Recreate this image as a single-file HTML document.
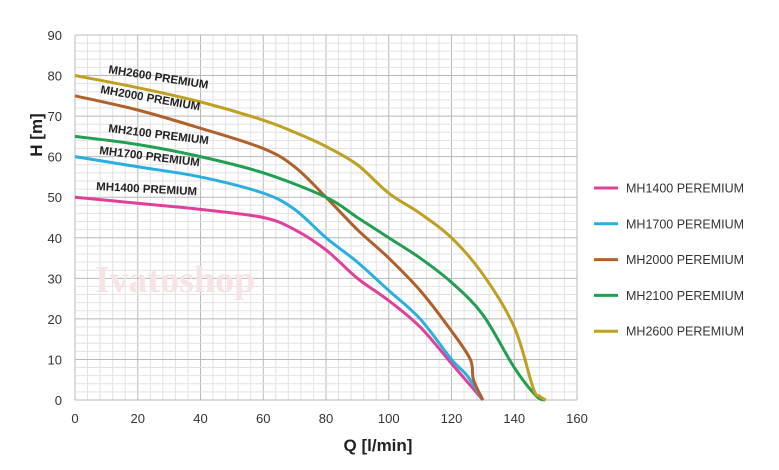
<!DOCTYPE html><html><head><style>body{margin:0;background:#fff}svg{display:block}</style></head><body>
<svg width="779" height="470" xmlns="http://www.w3.org/2000/svg" font-family="Liberation Sans, sans-serif">
<g id="grid"></g>
<text x="175" y="292" font-family="Liberation Serif,serif" font-size="38" font-weight="bold" fill="#f6e4e4" text-anchor="middle">Ivatoshop</text>
<g id="curves"></g>
<g font-size="13" fill="#333" text-anchor="end" id="yt"></g>
<g font-size="13" fill="#333" text-anchor="middle" id="xt"></g>
<text transform="translate(42,135) rotate(-90)" font-size="17" font-weight="bold" text-anchor="middle" fill="#222">H [m]</text>
<text x="378" y="451" font-size="17" font-weight="bold" text-anchor="middle" fill="#222">Q [l/min]</text>
<g font-size="11.5" font-weight="bold" fill="#222">
<text transform="translate(108,73) rotate(9)">MH2600 PREMIUM</text>
<text transform="translate(100,93) rotate(10)">MH2000 PREMIUM</text>
<text transform="translate(108,132) rotate(7)">MH2100 PREMIUM</text>
<text transform="translate(99,154) rotate(7)">MH1700 PREMIUM</text>
<text transform="translate(96,190) rotate(3)">MH1400 PREMIUM</text>
</g>
<g font-size="12.5" fill="#333" id="leg"></g>
</svg>
<script>
var ns="http://www.w3.org/2000/svg";
function X(q){return 75+q*3.1375}function Y(h){return 400-h*4.056}
function el(p,t,a,txt){var e=document.createElementNS(ns,t);for(var k in a)e.setAttribute(k,a[k]);if(txt!==undefined)e.textContent=txt;document.getElementById(p).appendChild(e);return e}
for(var q=0;q<=160;q+=4)el("grid","line",{x1:X(q),x2:X(q),y1:Y(90),y2:Y(0),stroke:q%20?"#e2e2e2":"#b8b8b8","stroke-width":1});
for(var h=0;h<=90;h+=2)el("grid","line",{x1:X(0),x2:X(160),y1:Y(h),y2:Y(h),stroke:h%10?"#e2e2e2":"#b8b8b8","stroke-width":1});
for(var h=0;h<=90;h+=10)el("yt","text",{x:62,y:Y(h)+5},h);
for(var q=0;q<=160;q+=20)el("xt","text",{x:X(q),y:423},q);
var S=[
["#e0409a","MH1400 PEREMIUM",[[0,50],[20,48.5],[40,47],[60,45],[70,42],[80,37],[90,30],[100,24.5],[110,18],[120,9],[130,0]]],
["#2ab0e0","MH1700 PEREMIUM",[[0,60],[20,57.5],[40,55],[60,51],[70,47],[80,40],[90,34],[100,27],[110,20],[120,10],[125,6],[130,0]]],
["#b0602a","MH2000 PEREMIUM",[[0,75],[20,71.5],[40,67],[60,62],[70,57.5],[80,50],[90,42],[100,35],[110,27],[120,17],[126,10],[127,5],[130,0]]],
["#20a050","MH2100 PEREMIUM",[[0,65],[20,63],[40,60],[60,56],[80,50],[90,45],[100,40],[110,35],[120,29],[130,21],[140,8],[147,1],[150,0]]],
["#c0a020","MH2600 PEREMIUM",[[0,80],[20,77],[40,73.5],[60,69],[70,66],[80,62.5],[90,58],[100,51],[110,46],[120,40],[130,31],[140,18],[146,3],[148,1],[150,0]]]];
function mk(pts){var P=pts.map(function(p){return [X(p[0]),Y(p[1])]});var d="M"+P[0][0]+","+P[0][1];
for(var i=0;i<P.length-1;i++){var p0=P[Math.max(0,i-1)],p1=P[i],p2=P[i+1],p3=P[Math.min(P.length-1,i+2)];
d+=" C"+(p1[0]+(p2[0]-p0[0])/6)+","+(p1[1]+(p2[1]-p0[1])/6)+" "+(p2[0]-(p3[0]-p1[0])/6)+","+(p2[1]-(p3[1]-p1[1])/6)+" "+p2[0]+","+p2[1];}return d}
S.forEach(function(s,i){
 el("curves","path",{d:mk(s[2]),fill:"none",stroke:s[0],"stroke-width":3,"stroke-linejoin":"round"});
 var y=188+i*35.8;
 el("leg","line",{x1:594,x2:618,y1:y,y2:y,stroke:s[0],"stroke-width":3});
 el("leg","text",{x:626,y:y+4.5},s[1]);
});
</script>
</body></html>
